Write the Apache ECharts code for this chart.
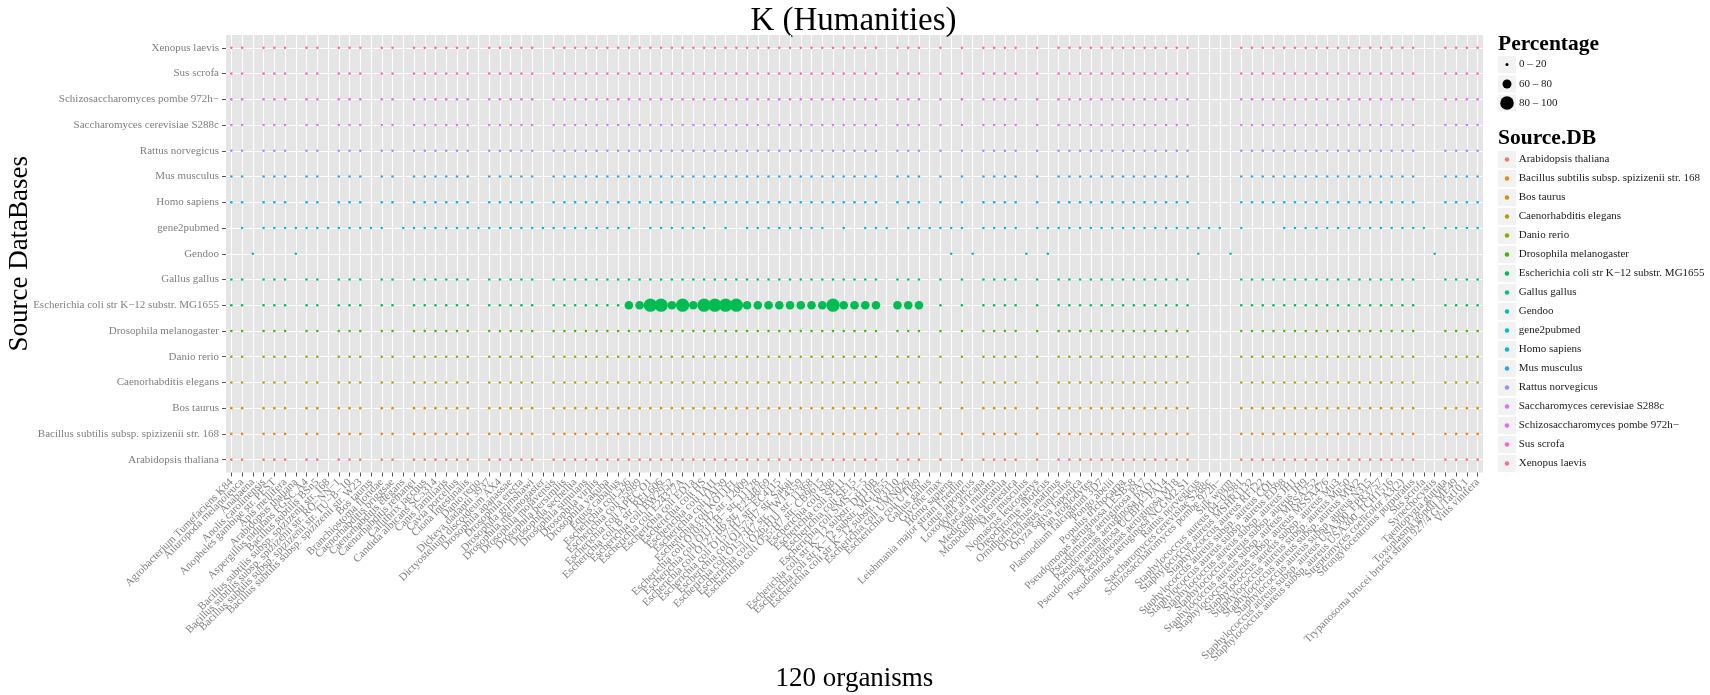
<!DOCTYPE html>
<html><head><meta charset="utf-8">
<script src="https://cdn.jsdelivr.net/npm/echarts@6/dist/echarts.min.js"></script>
<style>html,body{margin:0;padding:0;background:#fff}#chart{width:1710px;height:695px}</style>
</head><body><div id="chart"></div>
<script>
// ---------------- data ----------------
const organisms = [
  "Agrobacterium Tumefaciens K84","Ailuropoda melanoleuca","Anabaena","Anolis carolinensis",
  "Anopheles gambiae str. PEST","Apis mellifera","Arabidopsis thaliana","Aspergillus nidulans FGSC A4",
  "Bacillus subtilis BSn5","Bacillus subtilis subsp. spizizenii str. 168","Bacillus subtilis subsp. spizizenii str. RO−NN−1",
  "Bacillus subtilis subsp. spizizenii str. TU−B−10","Bacillus subtilis subsp. spizizenii str. W23","Bos taurus",
  "Branchiostoma floridae","Caenorhabditis briggsae","Caenorhabditis elegans","Caenorhabditis remanei",
  "Callithrix jacchus","Candida albicans SC5314","Canis familiaris","Cavia porcellus","Ciona intestinalis",
  "Danio rerio","Dickeya dadantii 3937","Dictyostelium discoideum AX4","Drosophila ananassae","Drosophila erecta",
  "Drosophila grimshawi","Drosophila melanogaster","Drosophila mojavensis","Drosophila persimilis",
  "Drosophila sechellia","Drosophila simulans","Drosophila virilis","Drosophila yakuba","Equus caballus",
  "Escherichia coli 536","Escherichia coli 55989","Escherichia coli APEC O1","Escherichia coli B str. REL606",
  "Escherichia coli BW2952","Escherichia coli E24377A","Escherichia coli ED1a","Escherichia coli HS",
  "Escherichia coli IAI1","Escherichia coli IAI39","Escherichia coli KO11FL","Escherichia coli O103:H2 str. 12009",
  "Escherichia coli O111:H− str. 11128","Escherichia coli O127:H6 str. E2348/69","Escherichia coli O157:H7 str. EC4115",
  "Escherichia coli O157:H7 str. Sakai","Escherichia coli O157:H7 str. TW14359","Escherichia coli O26:H11 str. 11368",
  "Escherichia coli O55:H7 str. CB9615","Escherichia coli S88","Escherichia coli SE11","Escherichia coli SE15",
  "Escherichia coli SMS−3−5","Escherichia coli str K−12 substr. DH10B","Escherichia coli str K−12 substr. MG1655",
  "Escherichia coli str K−12 substr. W3110","Escherichia coli UMN026","Escherichia coli UTI89",
  "Gallus gallus","Glycine max","Homo sapiens","Leishmania major strain Friedlin","Lotus japonicus",
  "Loxodonta africana","Macaca mulatta","Medicago truncatula","Monodelphis domestica","Mus musculus",
  "Nomascus leucogenys","Oreochromis niloticus","Ornithorhynchus anatinus","Oryctolagus cuniculus",
  "Oryza sativa Japonica","Pan troglodytes","Plasmodium falciparum 3D7","Pongo abelii","Populus trichocarpa",
  "Pseudomonas aeruginosa LESB58","Pseudomonas aeruginosa PA7","Pseudomonas aeruginosa PAO1",
  "Pseudomonas aeruginosa UCBPP−PA14","Pseudomonas aeruginosa M18","Pseudomonas aeruginosa NCGM2.S1",
  "Rattus norvegicus","Saccharomyces cerevisiae S288c","Schizosaccharomyces pombe 972h−","Silk worm",
  "Staphylococcus aureus 04−02981","Staphylococcus aureus MSHR1132","Staphylococcus aureus RF122",
  "Staphylococcus aureus subsp. aureus COL","Staphylococcus aureus subsp. aureus ED98","Staphylococcus aureus subsp. aureus JH1",
  "Staphylococcus aureus subsp. aureus JH9","Staphylococcus aureus subsp. aureus MRSA252","Staphylococcus aureus subsp. aureus MSSA476",
  "Staphylococcus aureus subsp. aureus Mu3","Staphylococcus aureus subsp. aureus Mu50","Staphylococcus aureus subsp. aureus MW2",
  "Staphylococcus aureus subsp. aureus N315","Staphylococcus aureus subsp. aureus USA300_FPR3757","Staphylococcus aureus subsp. aureus USA300_TCH1516",
  "Streptomyces coelicolor A3(2)","Strongylocentrotus purpuratus","Sus scrofa","Synechocystis",
  "Taeniopygia guttata","Toxoplasma gondii ME49","Trypanosoma brucei brucei strain 927/4 GUTat10.1","Vitis vinifera"
];
const sourceDBs = [
  "Arabidopsis thaliana","Bacillus subtilis subsp. spizizenii str. 168","Bos taurus","Caenorhabditis elegans",
  "Danio rerio","Drosophila melanogaster","Escherichia coli str K−12 substr. MG1655","Gallus gallus","Gendoo",
  "gene2pubmed","Homo sapiens","Mus musculus","Rattus norvegicus","Saccharomyces cerevisiae S288c",
  "Schizosaccharomyces pombe 972h−","Sus scrofa","Xenopus laevis"
];
// organism columns (index into organisms) with no dot in the species databases
const speciesDBMissing = [2,6,9,13,16,23,29,61,65,67,69,74,76,90,91,92,93,111,112];
// organism columns with no dot in gene2pubmed
const gene2pubmedMissing = [0,2,15,38,45,47,56,58,62,69,74,93,95,96,97,112];
// organism columns with a dot in Gendoo
const gendooPresent = [2,6,67,69,74,76,90,93,112];
// E. coli K-12 database: larger percentages for these organism columns
const ecoliColumns = [37,38,39,40,41,42,43,44,45,46,47,48,49,50,51,52,53,54,55,56,57,58,59,60,62,63,64];
const ecoliPercent = [70,65,90,88,65,90,65,88,90,90,88,70,70,70,70,70,70,70,70,88,70,70,70,70,70,70,70];
const otherPercent = 8;     // every other dot sits in the 0 – 20 class
const sizeLegendLabels = ["0 – 20","60 – 80","80 – 100"];
const sizeLegendValues = [10, 70, 90];

// ---------------- helpers ----------------
const FONT = "Liberation Serif";
function hcl(h, c, l) {
  const hr = h * Math.PI / 180;
  const U = c * Math.cos(hr), V = c * Math.sin(hr);
  const Y = l > 8 ? Math.pow((l + 16) / 116, 3) : l / 903.3;
  const up = U / (13 * l) + 0.1978398, vp = V / (13 * l) + 0.4683363;
  const X = 9 * Y * up / (4 * vp);
  const Z = 3 * Y / vp - X / 3 - 5 * Y;
  const lin = [
    3.240479 * X - 1.537150 * Y - 0.498535 * Z,
    -0.969256 * X + 1.875992 * Y + 0.041556 * Z,
    0.055648 * X - 0.204043 * Y + 1.057311 * Z
  ];
  return '#' + lin.map(v => {
    v = v <= 0.0031308 ? 12.92 * v : 1.055 * Math.pow(v, 1 / 2.4) - 0.055;
    v = Math.max(0, Math.min(1, v));
    return Math.round(v * 255).toString(16).padStart(2, '0');
  }).join('');
}
const palette = sourceDBs.map((d, i) => hcl(15 + 360 * i / sourceDBs.length, 100, 65));
function sizeFor(p) { return p >= 80 ? 13.2 : (p >= 60 ? 8.6 : 2.6); }

// ---------------- series ----------------
const series = sourceDBs.map((db, r) => {
  const data = [];
  organisms.forEach((org, c) => {
    let p = null;
    if (db === "Gendoo") p = gendooPresent.includes(c) ? otherPercent : null;
    else if (db === "gene2pubmed") p = gene2pubmedMissing.includes(c) ? null : otherPercent;
    else p = speciesDBMissing.includes(c) ? null : otherPercent;
    if (p !== null && db === "Escherichia coli str K−12 substr. MG1655") {
      const k = ecoliColumns.indexOf(c);
      if (k >= 0) p = ecoliPercent[k];
    }
    if (p !== null) data.push([org, db, p]);
  });
  return {
    name: db, type: 'scatter', data: data, symbol: 'circle',
    symbolSize: v => sizeFor(v[2]),
    itemStyle: { color: palette[r], opacity: 1 },
    emphasis: { disabled: true }, silent: true, z: 3
  };
});

// ---------------- legend decorations ----------------
const LX = 1498, KEY = 18;
const graphics = [];
graphics.push({ type: 'text', x: LX, y: 44, style: { text: 'Percentage', font: 'bold 21.5px ' + FONT, fill: '#000', verticalAlign: 'middle' } });
const sizeCenters = [64.5, 84, 103];
sizeLegendLabels.forEach((lab, i) => {
  graphics.push({ type: 'rect', shape: { x: LX, y: sizeCenters[i] - 8.5, width: KEY, height: 17 }, style: { fill: '#F2F2F2' }, z: 1 });
  graphics.push({ type: 'circle', shape: { cx: LX + 9, cy: sizeCenters[i], r: sizeFor(sizeLegendValues[i]) / 2 + 0.2 }, style: { fill: '#000' }, z: 2 });
  graphics.push({ type: 'text', x: LX + 21, y: sizeCenters[i], style: { text: lab, font: '11px ' + FONT, fill: '#1a1a1a', verticalAlign: 'middle' }, z: 2 });
});
graphics.push({ type: 'text', x: LX, y: 138, style: { text: 'Source.DB', font: 'bold 21.5px ' + FONT, fill: '#000', verticalAlign: 'middle' } });
const LEG_TOP = 159.5;
sourceDBs.forEach((d, i) => {
  graphics.push({ type: 'rect', shape: { x: LX, y: LEG_TOP + 19 * i - 8.6, width: KEY, height: 17.2 }, style: { fill: '#F2F2F2' }, z: 0 });
});
graphics.push({ type: 'text', x: 853.5, y: 21.5, style: { text: 'K (Humanities)', font: '33px ' + FONT, fill: '#000', align: 'center', verticalAlign: 'middle' } });

const chart = echarts.init(document.getElementById('chart'), null, { renderer: 'canvas' });
chart.setOption({
  animation: false,
  backgroundColor: '#fff',
  textStyle: { fontFamily: FONT },
  grid: { left: 226, top: 35, width: 1257, height: 437.5, show: true, backgroundColor: '#E5E5E5', borderWidth: 0,
          containLabel: false, outerBoundsMode: 'none' },
  xAxis: {
    type: 'category', data: organisms, boundaryGap: true,
    axisLine: { show: false },
    axisTick: { show: true, alignWithLabel: true, interval: 0, length: 4, lineStyle: { color: '#555', width: 1 } },
    axisLabel: { interval: 0, rotate: 45, fontSize: 11, color: '#7f7f7f', fontFamily: FONT, margin: 8 },
    splitLine: { show: true, alignWithLabel: true, interval: 0, lineStyle: { color: '#fff', width: 1.1 } },
    name: '120 organisms', nameLocation: 'middle', nameGap: 206, nameMoveOverlap: false,
    nameTextStyle: { fontSize: 27, color: '#000', fontFamily: FONT, verticalAlign: 'middle' }
  },
  yAxis: {
    type: 'category', data: sourceDBs, boundaryGap: true,
    axisLine: { show: false },
    axisTick: { show: true, alignWithLabel: true, interval: 0, length: 4, lineStyle: { color: '#555', width: 1 } },
    axisLabel: { interval: 0, fontSize: 11, color: '#7f7f7f', fontFamily: FONT, margin: 7 },
    splitLine: { show: true, alignWithLabel: true, interval: 0, lineStyle: { color: '#fff', width: 1.1 } },
    name: 'Source DataBases', nameLocation: 'middle', nameGap: 206, nameRotate: 90, nameMoveOverlap: false,
    nameTextStyle: { fontSize: 27, color: '#000', fontFamily: FONT, verticalAlign: 'middle' }
  },
  legend: {
    orient: 'vertical', left: 1504.75, top: LEG_TOP - 9.5, padding: 0, itemGap: 0,
    icon: 'circle', itemWidth: 4.5, itemHeight: 4.5, selectedMode: false, z: 5,
    textStyle: { fontFamily: FONT, fontSize: 11, color: '#1a1a1a', lineHeight: 19, padding: [0, 0, 0, 4.5] },
    data: sourceDBs
  },
  graphic: graphics,
  series: series
});
</script></body></html>
